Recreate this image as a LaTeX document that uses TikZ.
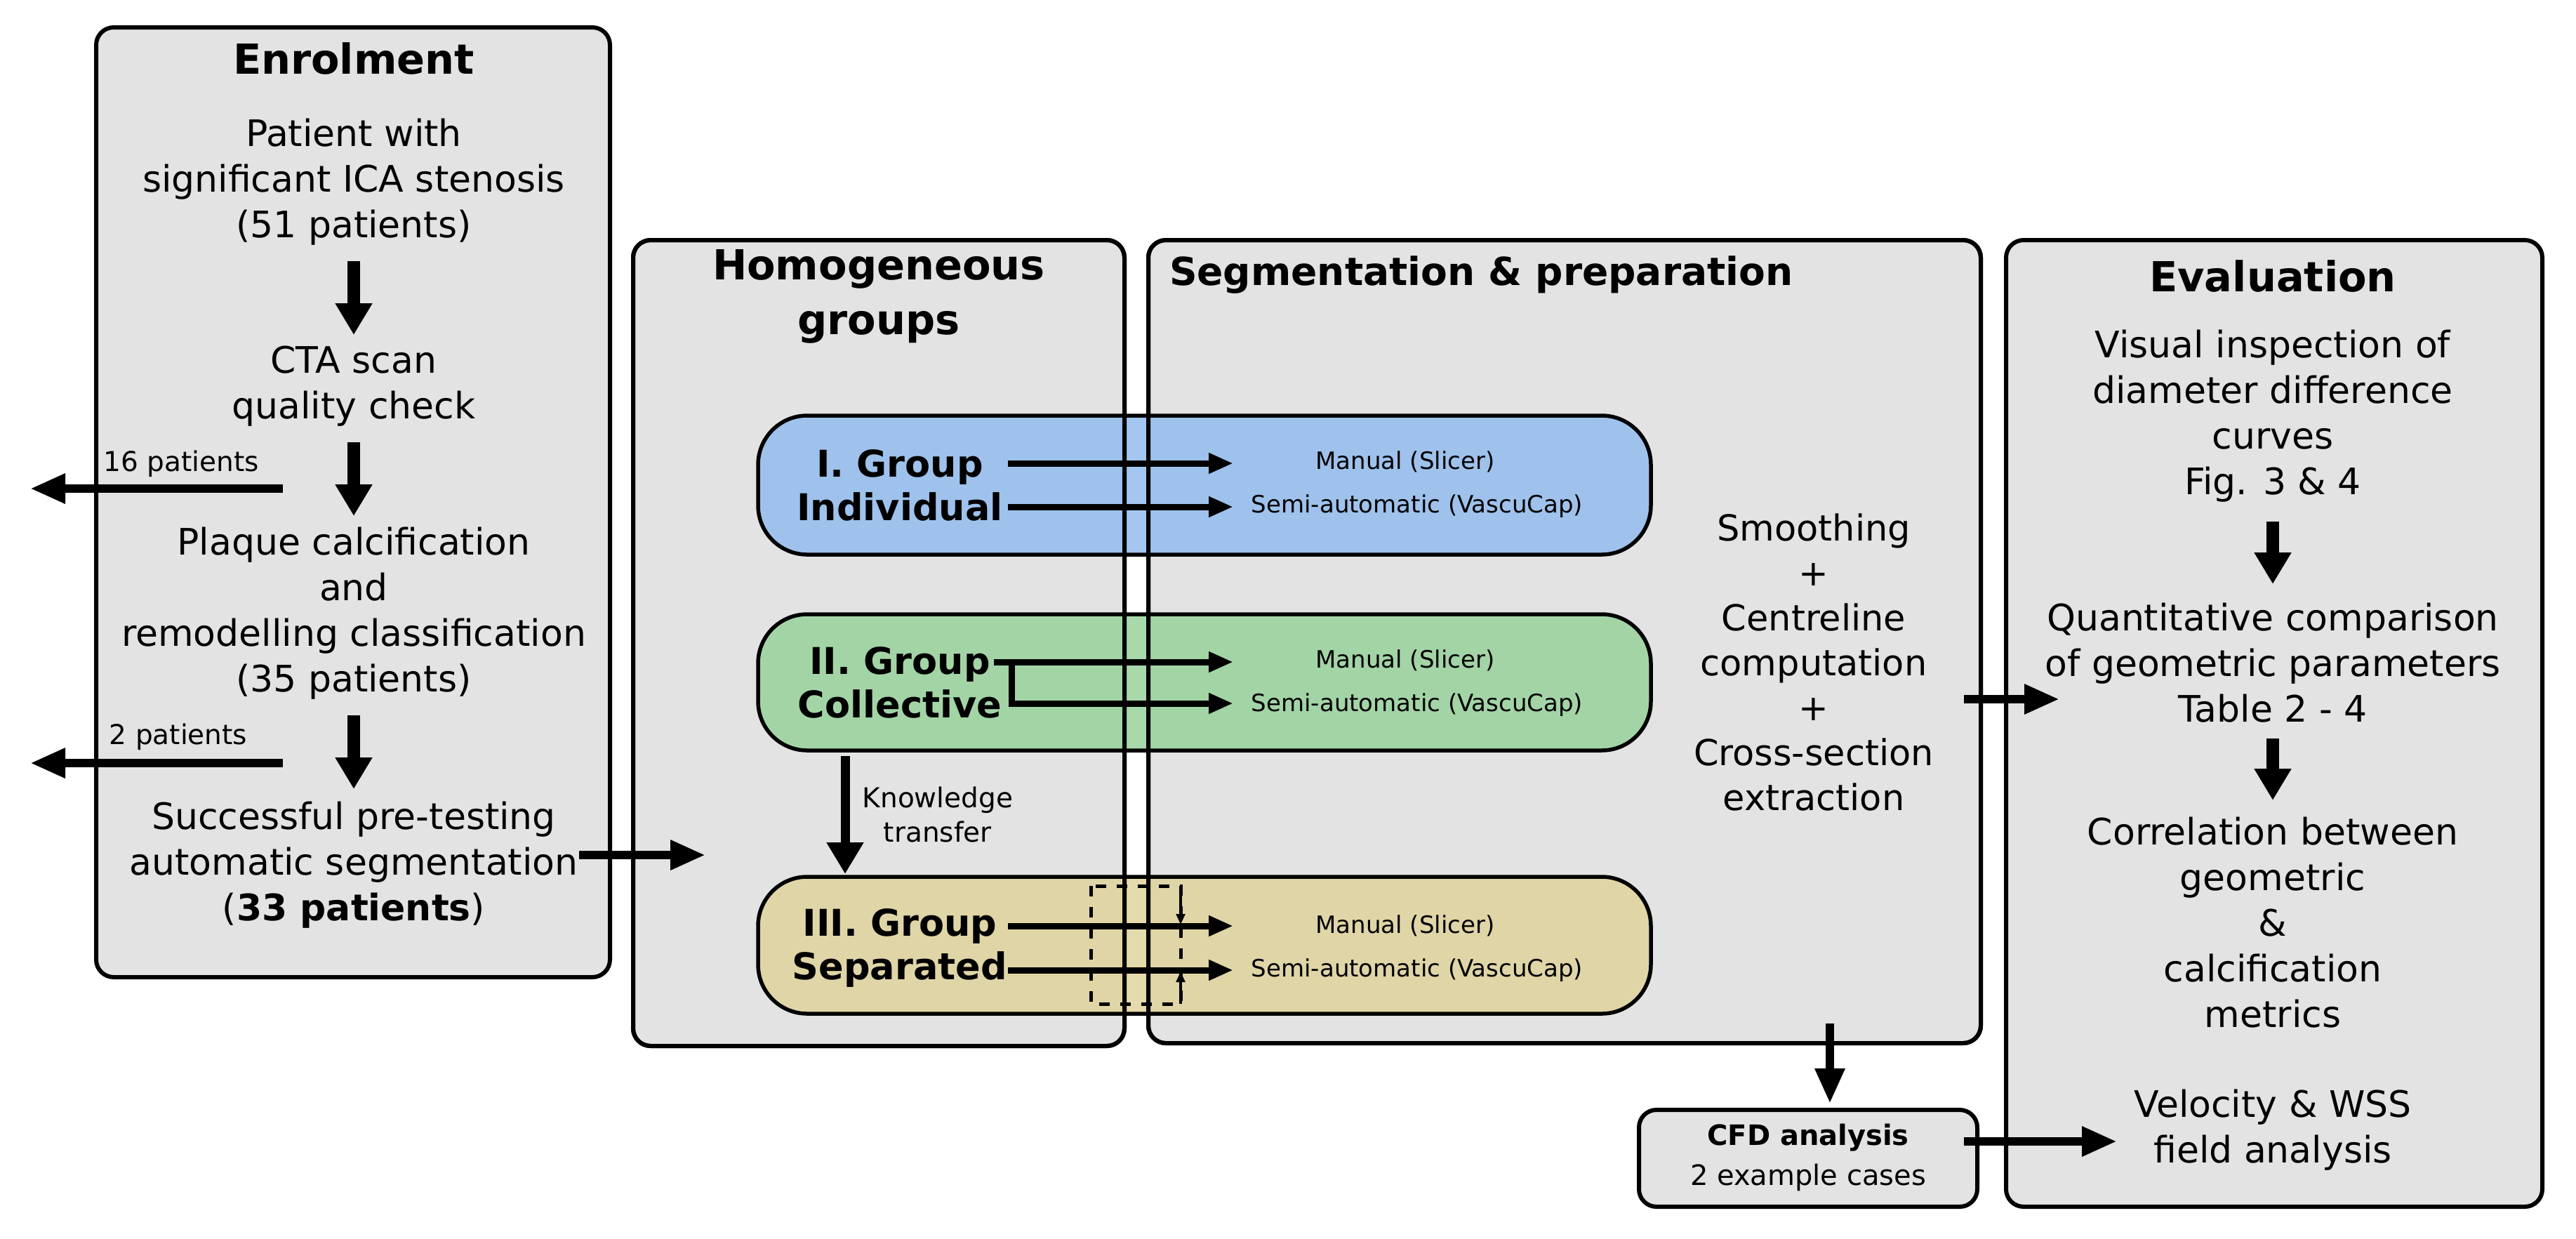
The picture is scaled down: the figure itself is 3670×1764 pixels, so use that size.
\documentclass[tikz,border=0pt]{standalone}
\usepackage{fontspec}
\setmainfont{DejaVu Sans}
\usetikzlibrary{arrows.meta,positioning}
\definecolor{panel}{HTML}{E3E3E3}
\definecolor{grpI}{HTML}{93BDEE}
\definecolor{grpII}{HTML}{98D29C}
\definecolor{grpIII}{HTML}{E0D39D}
\begin{document}
\begin{tikzpicture}[x=0.2pt, y=-0.2pt,
    panel/.style={draw, line width=1.2pt, fill=panel, rounded corners=5pt},
    pill/.style={draw, line width=1.1pt, fill opacity=0.85, rounded corners=14pt},
    txt/.style={align=center, inner sep=0pt, font=\fontsize{10.4}{13}\selectfont},
    ttl/.style={align=center, inner sep=0pt, font=\fontsize{11.8}{15.6}\selectfont\bfseries},
    grp/.style={align=center, inner sep=0pt, font=\fontsize{10.5}{12.4}\selectfont\bfseries},
    mth/.style={inner sep=0pt, font=\fontsize{6.8}{8}\selectfont},
    sml/.style={inner sep=0pt, font=\fontsize{7.8}{9.8}\selectfont},
    fat/.style={line width=3.6pt, -{Triangle[width=10pt,length=9pt]}},
    big/.style={line width=2.4pt, -{Triangle[width=8pt,length=10pt]}},
    thin/.style={line width=1.8pt, -{Triangle[width=5.5pt,length=7pt]}},
    tiny/.style={line width=0.7pt, -{Triangle[width=2.5pt,length=3pt]}}]

    \useasboundingbox (0,0) rectangle (3670,1764);

    % panels
    \draw[panel] (137,39) rectangle (869,1392);
    \draw[panel] (902,342) rectangle (1602,1490);
    \draw[panel] (1636,342) rectangle (2822,1486);
    \draw[panel] (2858,342) rectangle (3622,1719);
    \draw[panel] (2335,1581) rectangle (2817,1719);

    % group pills
    \draw[pill, fill=grpI] (1080,592) rectangle (2352,790);
    \draw[pill, fill=grpII] (1080,875) rectangle (2352,1069);
    \draw[pill, fill=grpIII] (1080,1249) rectangle (2352,1444);
    \draw[line width=1.2pt, rounded corners=5pt] (902,342) rectangle (1602,1490);
    \draw[line width=1.2pt, rounded corners=5pt] (1636,342) rectangle (2822,1486);

    % enrolment
    \node[ttl] (enr) at (504,83) {Enrolment};
    \node[txt] (pat) at (504,259) {Patient with\\significant ICA stenosis\\(51 patients)};
    \node[txt] (cta) at (504,550) {CTA scan\\quality check};
    \node[txt] (plq) at (504,874) {Plaque calcification\\and\\remodelling classification\\(35 patients)};
    \node[txt] (suc) at (504,1232) {Successful pre-testing\\automatic segmentation\\(\textbf{33 patients})};
    \draw[fat] (504,372) -- (504,477);
    \draw[fat] (504,630) -- (504,735);
    \draw[fat] (504,1019) -- (504,1124);

    % excluded patients
    \coordinate (ex1) at (43,696);
    \coordinate (ex2) at (43,1087);
    \node[sml, anchor=west] (lb1) at (147,661) {16 patients};
    \node[sml, anchor=west] (lb2) at (155,1050) {2 patients};
    \draw[big] (403,696) -- (ex1);
    \draw[big] (403,1087) -- (ex2);

    % homogeneous groups
    \node[ttl] (hom) at (1252,422) {Homogeneous\\groups};
    \coordinate (homin) at (1005,1218);
    \draw[big] (suc.east |- homin) -- (homin);

    \node[grp] (g1) at (1282,691) {I. Group\\Individual};
    \node[grp] (g2) at (1282,972) {II. Group\\Collective};
    \node[grp] (g3) at (1282,1350) {III. Group\\Separated};

    \node[mth] (m1) at (2002,658) {Manual (Slicer)};
    \node[mth] (s1) at (2019,721) {Semi-automatic (VascuCap)};
    \node[mth] (m2) at (2002,941) {Manual (Slicer)};
    \node[mth] (s2) at (2019,1004) {Semi-automatic (VascuCap)};
    \node[mth] (m3) at (2002,1319) {Manual (Slicer)};
    \node[mth] (s3) at (2019,1382) {Semi-automatic (VascuCap)};

    \draw[thin] (1436,660) -- (1757,660);
    \draw[thin] (1436,722) -- (1757,722);
    \draw[thin] (1416,943) -- (1757,943);
    \draw[thin] (1441,943) -- (1441,1002) -- (1757,1002);
    \draw[thin] (1436,1319) -- (1757,1319);
    \draw[thin] (1436,1382) -- (1757,1382);

    % knowledge transfer
    \draw[fat, line width=2.6pt] (1204,1077) -- (1204,1245);
    \node[sml, align=center] (kt) at (1336,1160) {Knowledge\\transfer};

    % dashed transfer box
    \draw[dashed, line width=1pt] (1554,1262) rectangle (1682,1430);
    \draw[tiny] (1682,1262) -- (1682,1317);
    \draw[tiny] (1682,1430) -- (1682,1384);

    % segmentation & preparation
    \node[ttl, font=\fontsize{11}{14}\selectfont\bfseries, anchor=west] (seg) at (1665,392) {Segmentation \& preparation};
    \node[txt, font=\fontsize{10.2}{12.8}\selectfont] (smo) at (2584,943) {Smoothing\\+\\Centreline\\computation\\+\\Cross-section\\extraction};
    \draw[big] (2798,996) -- (2934,996);
    \draw[big] (2607,1458) -- (2607,1572);

    % CFD
    \node[inner sep=0pt, font=\fontsize{8}{10}\selectfont\bfseries] (cfd) at (2576,1621) {CFD analysis};
    \node[sml, font=\fontsize{8}{10}\selectfont] (cas) at (2576,1677) {2 example cases};
    \draw[big] (2798,1626) -- (3016,1626);

    % evaluation
    \node[ttl] (eva) at (3238,393) {Evaluation};
    \node[txt] (vis) at (3238,593) {Visual inspection of\\diameter difference\\curves\\Fig. 3 \& 4};
    \node[txt] (qua) at (3238,944) {Quantitative comparison\\of geometric parameters\\Table 2 - 4};
    \node[txt] (cor) at (3238,1314) {Correlation between\\geometric\\\&\\calcification\\metrics};
    \node[txt] (vel) at (3238,1610) {Velocity \& WSS\\field analysis};
    \draw[fat] (3238,743) -- (3238,832);
    \draw[fat] (3238,1052) -- (3238,1140);
\end{tikzpicture}
\end{document}
